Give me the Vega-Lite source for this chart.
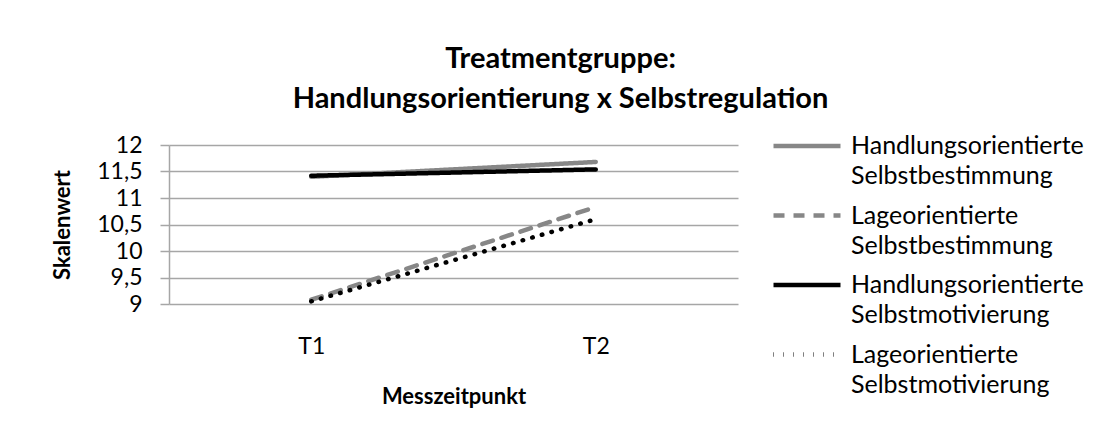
{
  "$schema": "https://vega.github.io/schema/vega-lite/v6.json",
  "width": 569,
  "height": 159,
  "autosize": {"type": "none"},
  "padding": {"left": 169, "top": 145, "right": 362, "bottom": 135},
  "background": "white",
  "title": {
    "text": ["Treatmentgruppe:", "Handlungsorientierung x Selbstregulation"],
    "font": "Lato",
    "fontSize": 29,
    "fontWeight": "bold",
    "color": "#000000",
    "anchor": "middle",
    "dx": 107,
    "lineHeight": 40,
    "offset": 13
  },
  "data": {
    "values": [
      {"zeit": "T1", "gruppe": "Handlungsorientierte Selbstbestimmung", "wert": 11.40},
      {"zeit": "T2", "gruppe": "Handlungsorientierte Selbstbestimmung", "wert": 11.68},
      {"zeit": "T1", "gruppe": "Lageorientierte Selbstbestimmung", "wert": 9.08},
      {"zeit": "T2", "gruppe": "Lageorientierte Selbstbestimmung", "wert": 10.83},
      {"zeit": "T1", "gruppe": "Handlungsorientierte Selbstmotivierung", "wert": 11.42},
      {"zeit": "T2", "gruppe": "Handlungsorientierte Selbstmotivierung", "wert": 11.54},
      {"zeit": "T1", "gruppe": "Lageorientierte Selbstmotivierung", "wert": 9.05},
      {"zeit": "T2", "gruppe": "Lageorientierte Selbstmotivierung", "wert": 10.60}
    ]
  },
  "mark": {"type": "line", "strokeCap": "round"},
  "encoding": {
    "x": {
      "field": "zeit",
      "type": "ordinal",
      "scale": {"type": "point", "padding": 0.5},
      "axis": {
        "title": "Messzeitpunkt",
        "labelAngle": 0,
        "domain": false,
        "ticks": false,
        "labelPadding": 31,
        "titlePadding": 28
      }
    },
    "y": {
      "field": "wert",
      "type": "quantitative",
      "scale": {"domain": [9, 12], "nice": false, "zero": false},
      "axis": {
        "title": "Skalenwert",
        "values": [9, 9.5, 10, 10.5, 11, 11.5, 12],
        "labelExpr": "replace(format(datum.value, '~g'), '.', ',')",
        "tickSize": 9,
        "labelPadding": 18,
        "titlePadding": 22
      }
    },
    "color": {
      "field": "gruppe",
      "type": "nominal",
      "sort": null,
      "scale": {
        "domain": ["Handlungsorientierte Selbstbestimmung", "Lageorientierte Selbstbestimmung", "Handlungsorientierte Selbstmotivierung", "Lageorientierte Selbstmotivierung"],
        "range": ["#878787", "#878787", "#000000", "#000000"]
      },
      "legend": {
        "title": null,
        "orient": "none",
        "legendX": 619,
        "legendY": -18,
        "symbolType": "M-2,0H2",
        "symbolSize": 1122,
        "labelOffset": 25,
        "labelExpr": "split(datum.label, ' ')",
        "labelBaseline": "middle",
        "rowPadding": 7.5,
        "padding": 0,
        "encode": {"labels": {"update": {"lineHeight": {"value": 30}}}}
      }
    },
    "strokeDash": {
      "field": "gruppe",
      "type": "nominal",
      "sort": null,
      "scale": {
        "domain": ["Handlungsorientierte Selbstbestimmung", "Lageorientierte Selbstbestimmung", "Handlungsorientierte Selbstmotivierung", "Lageorientierte Selbstmotivierung"],
        "range": [[1, 0], [11, 9], [1, 0], [0.5, 9.5]]
      }
    },
    "strokeWidth": {
      "field": "gruppe",
      "type": "nominal",
      "sort": null,
      "scale": {
        "domain": ["Handlungsorientierte Selbstbestimmung", "Lageorientierte Selbstbestimmung", "Handlungsorientierte Selbstmotivierung", "Lageorientierte Selbstmotivierung"],
        "range": [4.5, 4.5, 4.5, 4]
      }
    }
  },
  "config": {
    "view": {"stroke": null},
    "font": "Lato",
    "axis": {
      "labelFont": "Lato",
      "labelFontSize": 23,
      "labelColor": "#000000",
      "titleFont": "Lato",
      "titleFontSize": 22,
      "titleFontWeight": "bold",
      "titleColor": "#000000",
      "gridColor": "#a6a6a6",
      "gridWidth": 1.5,
      "domainColor": "#a6a6a6",
      "domainWidth": 1.5,
      "tickColor": "#a6a6a6",
      "tickWidth": 1.5
    },
    "legend": {
      "labelFont": "Lato",
      "labelFontSize": 25,
      "labelColor": "#000000",
      "labelLimit": 400
    }
  }
}
